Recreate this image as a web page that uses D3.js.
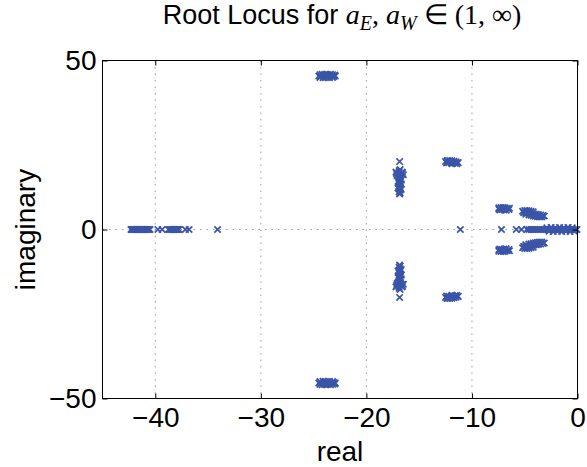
<!DOCTYPE html>
<html>
<head>
<meta charset="utf-8">
<script src="https://cdn.jsdelivr.net/npm/d3@7"></script>
<style>
  body { margin: 0; background: #fff; }
  svg { display: block; }
</style>
</head>
<body>
<div id="chart-area"></div>
<script>
const xTicks = [-40, -30, -20, -10, 0]
const yTicks = [-50, 0, 50]

// roots on the real axis
const realRoots = [
  -42.3, -42.2, -42.1, -42.0, -41.9, -41.8, -41.7, -41.6, -41.5, -41.4, -41.3, -41.2, -41.1,
  -41.0, -40.9, -40.8, -40.7, -40.6, -40.5,
  -39.75, -39.35,
  -38.75, -38.65, -38.55, -38.45, -38.35, -38.25, -38.15, -38.05, -37.95, -37.85, -37.75,
  -37.15, -36.8, -34.1,
  -11.1,
  -7.2, -5.8, -5.3,
  -4.8, -4.6, -4.4, -4.2, -4.0, -3.8, -3.6, -3.4, -3.2, -3.0, -2.8, -2.6, -2.4, -2.2, -2.0,
  -1.8, -1.6, -1.4, -1.2, -1.0, -0.8, -0.6, -0.4, -0.2, -0.05
]

// near-real roots with a small imaginary part [re, im]
const nearReal = [
  [-2.9, 0.5], [-2.5, 0.6], [-2.1, 0.5], [-1.7, 0.6], [-1.3, 0.5], [-0.9, 0.6], [-0.5, 0.5],
  [-2.7, -0.5], [-2.3, -0.6], [-1.9, -0.5], [-1.5, -0.6], [-1.1, -0.5], [-0.7, -0.6], [-0.3, -0.5]
]

// complex roots, upper half plane [re, im]; conjugates are drawn too
const groupA = [
  [-24.4, 45.8], [-24.2, 45.9], [-24.0, 45.8], [-23.8, 45.9], [-23.6, 45.8], [-23.4, 45.9],
  [-23.2, 45.8], [-23.0, 45.7], [-24.5, 45.4], [-24.3, 45.3], [-24.1, 45.4], [-23.9, 45.3],
  [-23.7, 45.4], [-23.5, 45.3], [-23.3, 45.4], [-23.1, 45.3], [-22.95, 45.4], [-24.4, 45.0],
  [-24.1, 44.9], [-23.8, 45.0], [-23.5, 44.9], [-23.2, 45.0]
]
const groupB = [
  [-16.85, 20.1],
  [-17.2, 17.0], [-16.9, 17.4], [-16.6, 17.0], [-17.0, 16.5], [-16.7, 16.6], [-17.1, 16.0],
  [-16.8, 15.8], [-16.5, 16.2], [-16.9, 16.9], [-17.15, 16.6], [-16.6, 16.6], [-16.8, 17.7],
  [-16.9, 15.2], [-16.8, 14.8], [-16.9, 14.4], [-16.8, 14.0], [-16.9, 13.6], [-16.8, 13.2],
  [-16.9, 12.8], [-16.8, 12.4], [-16.9, 12.0], [-16.8, 11.6], [-16.9, 11.2], [-16.8, 10.8],
  [-16.85, 10.5], [-16.7, 13.5], [-17.0, 12.3], [-16.7, 11.9], [-17.0, 14.2], [-16.7, 14.6]
]
const groupC = [
  [-12.5, 20.1], [-12.3, 20.3], [-12.1, 20.4], [-11.9, 20.3], [-11.7, 20.2], [-11.5, 20.0],
  [-11.3, 19.8], [-12.4, 19.7], [-12.2, 19.8], [-12.0, 19.9], [-11.8, 19.7], [-11.6, 19.6],
  [-11.45, 19.5], [-12.35, 20.4], [-11.9, 19.5]
]
const groupD = [
  [-7.45, 6.4], [-7.25, 6.5], [-7.05, 6.5], [-6.85, 6.4], [-6.65, 6.3], [-6.45, 6.3],
  [-7.35, 5.8], [-7.15, 5.9], [-6.95, 5.8], [-6.75, 5.7], [-6.5, 5.9], [-7.45, 6.0], [-7.0, 6.2]
]
const groupE = [
  [-5.2, 5.4], [-5.0, 5.6], [-4.8, 5.6], [-4.6, 5.5], [-4.4, 5.4], [-4.2, 5.2], [-5.1, 5.0],
  [-4.9, 5.0], [-4.7, 4.9], [-4.5, 4.8], [-4.3, 4.7], [-4.1, 4.6], [-3.9, 4.5], [-3.7, 4.4],
  [-3.5, 4.3], [-3.3, 4.1], [-3.15, 4.0], [-4.6, 4.3], [-4.4, 4.2], [-4.2, 4.0], [-4.0, 3.9],
  [-3.8, 3.8], [-3.6, 3.7], [-3.4, 3.7], [-4.9, 4.5], [-3.9, 4.2]
]

const margin = {top: 60.5, right: 9.5, bottom: 68.5, left: 102.5}
const width = 587 - margin.left - margin.right
const height = 467 - margin.top - margin.bottom
const blue = '#3a55a8'
const font = "'Liberation Sans', Arial, Helvetica, sans-serif"

const svg = d3.select('#chart-area')
  .append('svg')
    .attr('width', 587)
    .attr('height', 467)

const g = svg.append('g')
  .attr('transform', `translate(${margin.left},${margin.top})`)

const x = d3.scaleLinear().domain([-45, 0]).range([0, width])
const y = d3.scaleLinear().domain([-50, 50]).range([height, 0])

// dotted grid
g.append('g').selectAll('line')
  .data(xTicks.filter(d => d > -45 && d < 0))
  .enter().append('line')
    .attr('x1', d => x(d)).attr('x2', d => x(d))
    .attr('y1', 0).attr('y2', height)
    .attr('stroke', '#a0a0a0').attr('stroke-dasharray', '1.5,5')
g.append('g').selectAll('line')
  .data(yTicks.filter(d => d > -50 && d < 50))
  .enter().append('line')
    .attr('x1', 0).attr('x2', width)
    .attr('y1', d => y(d)).attr('y2', d => y(d))
    .attr('stroke', '#a0a0a0').attr('stroke-dasharray', '1.5,5')

// collect all roots
const pts = []
realRoots.forEach(r => pts.push([r, 0]))
nearReal.forEach(p => pts.push(p))
;[groupA, groupB, groupC, groupD, groupE].forEach(grp => {
  grp.forEach(p => {
    pts.push(p)
    pts.push([p[0], -p[1]])
  })
})

const s = 3.2
g.append('g').selectAll('path')
  .data(pts)
  .enter().append('path')
    .attr('transform', d => `translate(${x(d[0])},${y(d[1])})`)
    .attr('d', `M${-s},${-s}L${s},${s}M${-s},${s}L${s},${-s}`)
    .attr('stroke', blue)
    .attr('stroke-width', 1.7)
    .attr('fill', 'none')

// axes with inward ticks on all four sides
const styleAxis = sel => {
  sel.select('.domain').remove()
  sel.selectAll('.tick line').attr('stroke', '#000')
  sel.selectAll('text').attr('font-family', font).attr('font-size', '28px').attr('fill', '#000')
}

g.append('g')
  .attr('transform', `translate(0,${height})`)
  .call(d3.axisBottom(x).tickValues(xTicks).tickSizeInner(-5).tickSizeOuter(0).tickPadding(9))
  .call(styleAxis)
g.append('g')
  .call(d3.axisTop(x).tickValues(xTicks).tickSizeInner(-5).tickSizeOuter(0).tickFormat(''))
  .call(styleAxis)
g.append('g')
  .call(d3.axisLeft(y).tickValues(yTicks).tickSizeInner(-5).tickSizeOuter(0).tickPadding(6))
  .call(styleAxis)
g.append('g')
  .attr('transform', `translate(${width},0)`)
  .call(d3.axisRight(y).tickValues(yTicks).tickSizeInner(-5).tickSizeOuter(0).tickFormat(''))
  .call(styleAxis)

g.append('rect')
  .attr('width', width).attr('height', height)
  .attr('fill', 'none').attr('stroke', '#000').attr('stroke-width', 1)

// labels
svg.append('text')
  .attr('x', margin.left + width / 2)
  .attr('y', 461)
  .attr('text-anchor', 'middle')
  .attr('font-family', font).attr('font-size', '28px')
  .text('real')

svg.append('text')
  .attr('transform', `translate(35,${margin.top + height / 2}) rotate(-90)`)
  .attr('text-anchor', 'middle')
  .attr('font-family', font).attr('font-size', '28px')
  .text('imaginary')

const title = svg.append('text')
  .attr('x', 342)
  .attr('y', 24)
  .attr('text-anchor', 'middle')
  .attr('font-family', font).attr('font-size', '27px')
title.append('tspan').text('Root Locus for  ')
const serif = "'Liberation Serif', 'Times New Roman', serif"
title.append('tspan').attr('font-family', serif).attr('font-style', 'italic').attr('font-size', '28px').text('a')
title.append('tspan').attr('font-family', serif).attr('font-style', 'italic')
  .attr('font-size', '20px').attr('dy', 6).text('E')
title.append('tspan').attr('font-family', serif).attr('font-size', '28px').attr('dy', -6).text(', ')
title.append('tspan').attr('font-family', serif).attr('font-style', 'italic').attr('font-size', '28px').text('a')
title.append('tspan').attr('font-family', serif).attr('font-style', 'italic')
  .attr('font-size', '20px').attr('dy', 6).text('W')
title.append('tspan').attr('font-family', serif).attr('font-size', '28px').attr('dy', -6).text(' \u2208 (1, \u221E)')
</script>
</body>
</html>
